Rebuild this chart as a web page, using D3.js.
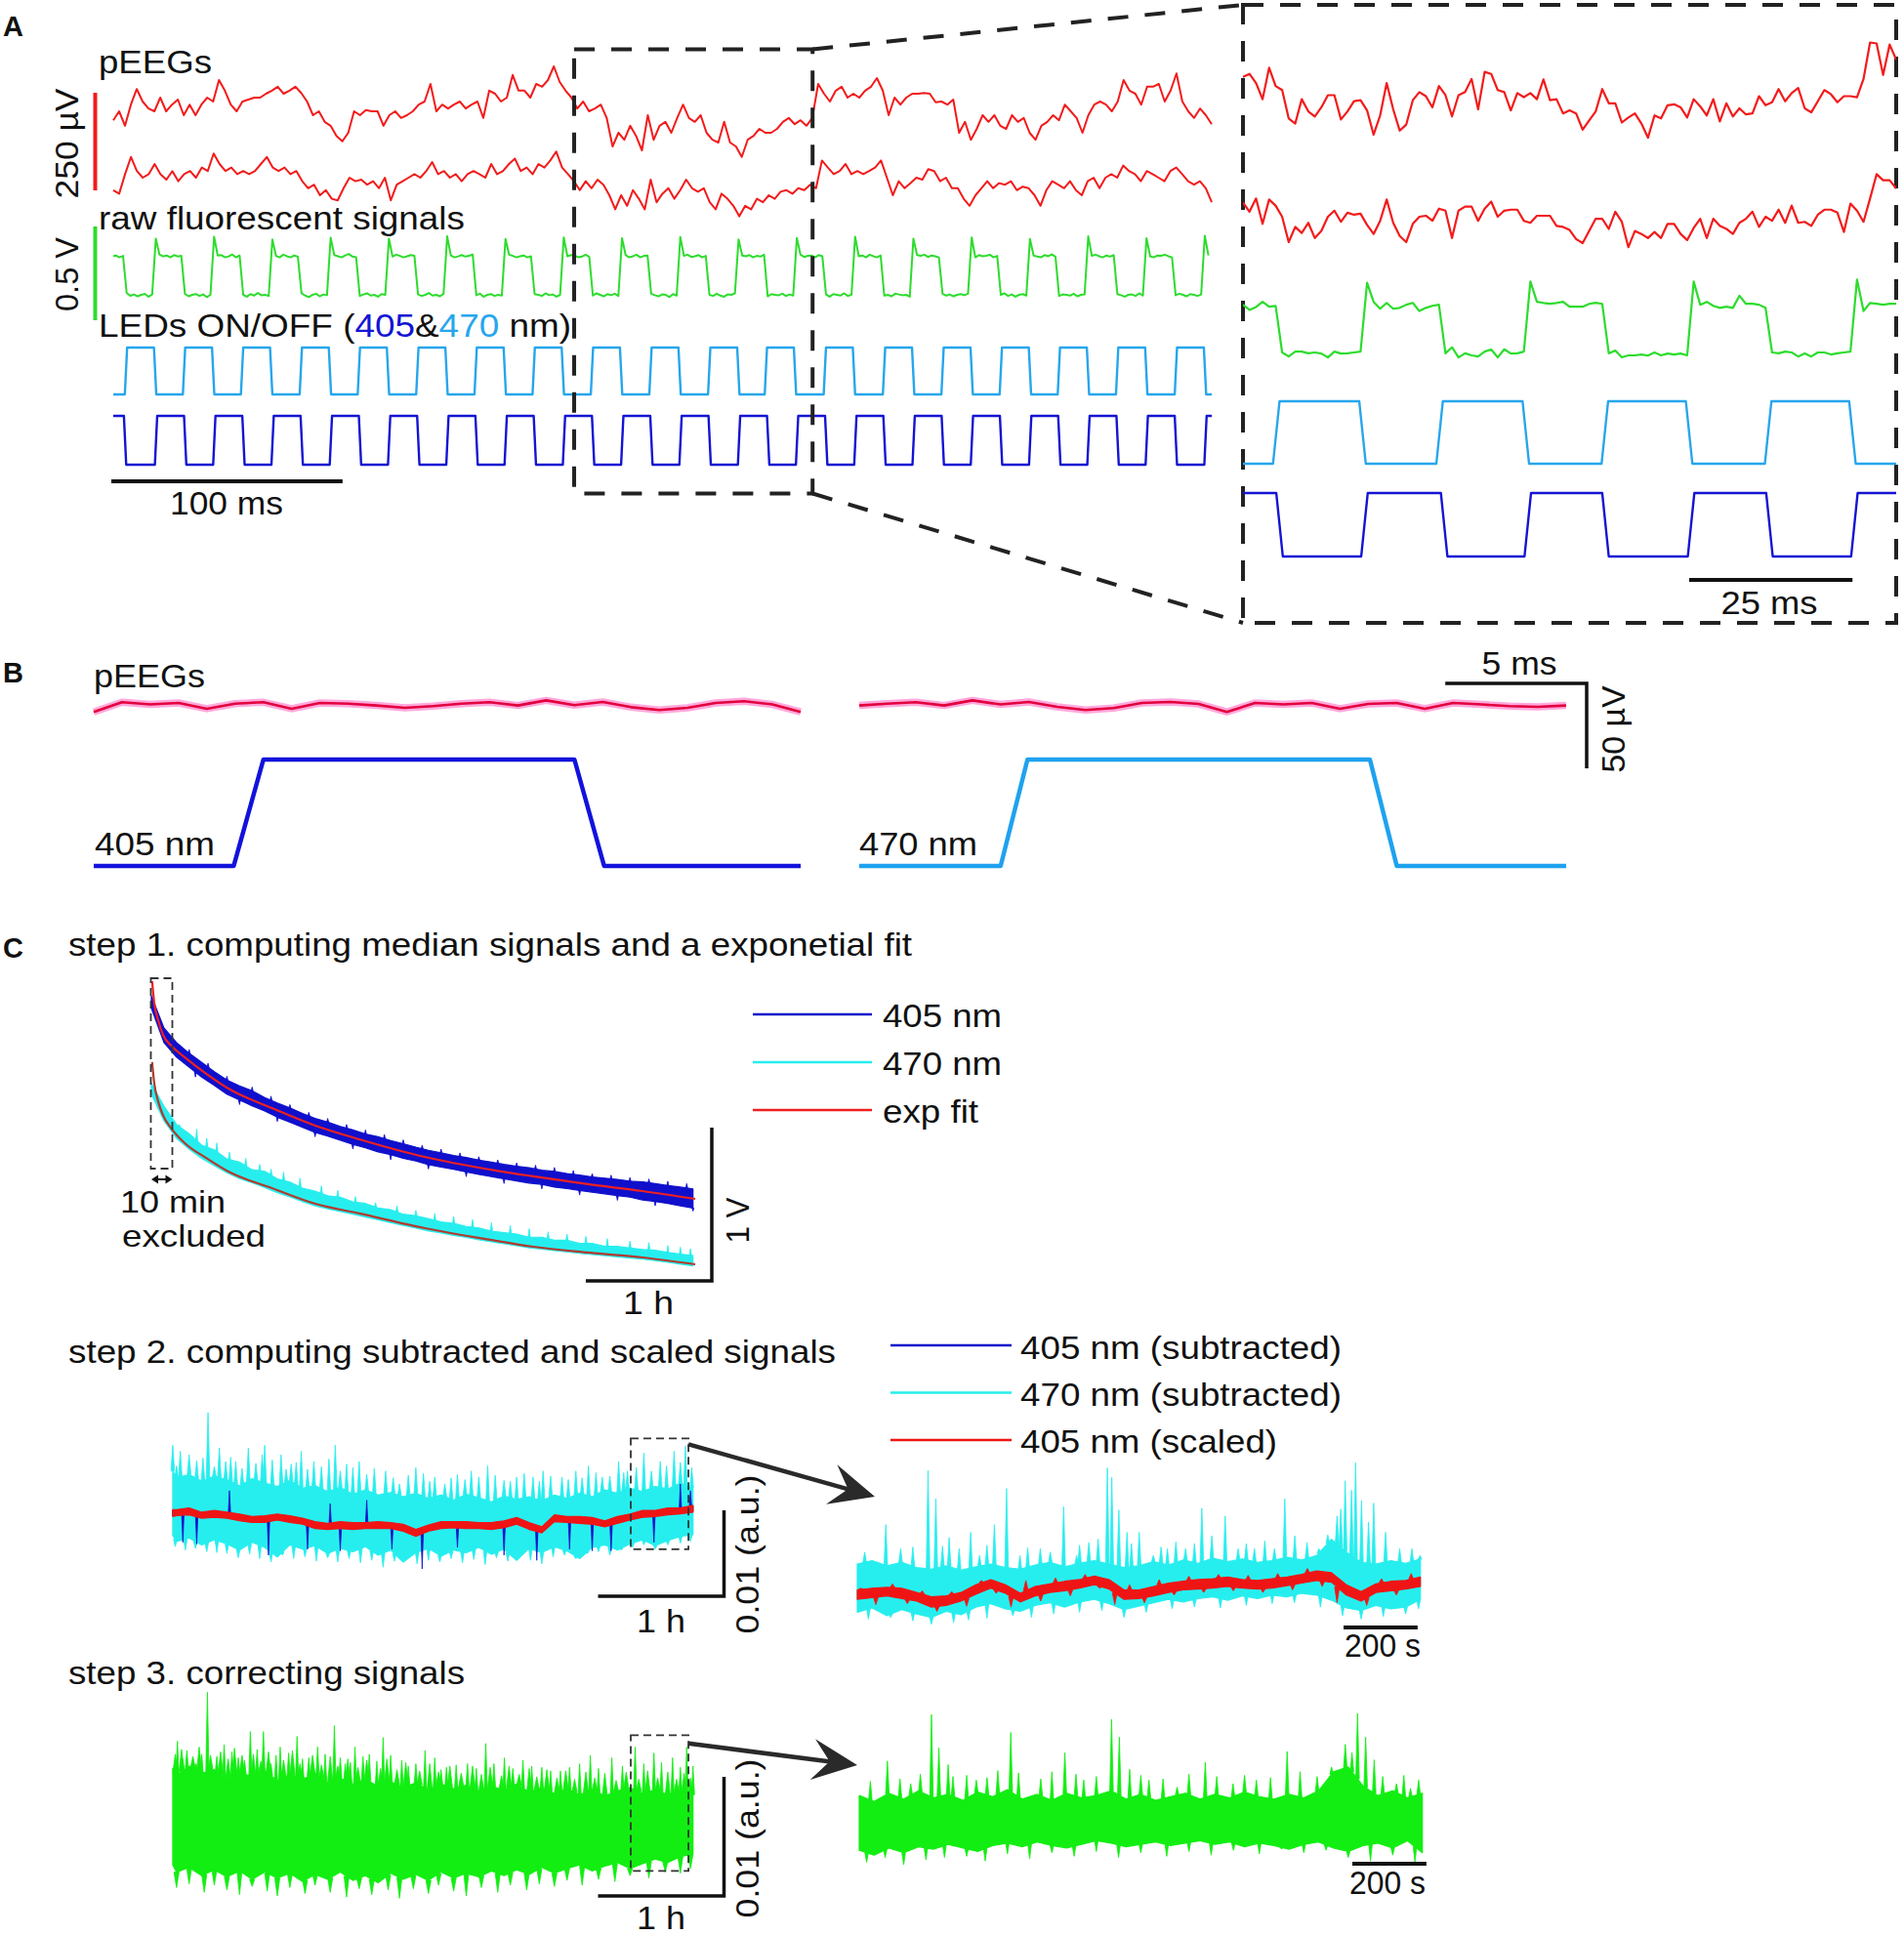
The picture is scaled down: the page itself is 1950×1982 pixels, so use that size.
<!DOCTYPE html>
<html lang="en">
<head>
<meta charset="UTF-8">
<title>pEEG and fluorescent signal processing</title>
<script src="https://d3js.org/d3.v7.min.js"></script>
<style>
  body { margin: 0; background: #fff; }
  text { font-family: "Liberation Sans", Arial, Helvetica, sans-serif; }
</style>
</head>
<body>
<script>
// ---------------- data ----------------
// Panel A overview, 475 ms. pEEG in µV, uniformly sampled
const eegA1 = [-8,15,-22,32,72,40,22,15,50,15, 32,45,5,32,5,32,50,40,95,68, 32,15,40,45,50,50,60,68,78,60,
  68,78,62,40,5,15,-12,-22,-48,-62, -40,15,5,18,15,15,-22,5,15,-2, 5,15,32,40,85,15,32,22,32,40,
  22,32,40,-2,68,60,40,50,108,68, 68,50,85,78,95,130,90,68,50,22, 40,15,22,32,-2,-75,-40,-58,-22,-48,
  -85,5,-58,-22,-12,-40,-2,32,-2,-12, 5,-40,-58,-65,-12,-65,-75,-102,-58,-48, -30,-40,-40,-30,-12,-2,-18,-8,-22,-2,
  85,60,40,68,78,50,60,50,68,78, 100,68,5,50,32,50,60,60,62,60, 38,40,32,45,-40,-12,-58,-30,5,-12,
  5,-22,-30,5,-12,-2,-40,-58,-22,-12, 5,-8,32,15,-2,-40,5,32,40,32, 15,40,95,68,60,32,78,78,85,40,
  68,112,40,15,-2,22,5,-18];
const eegA2 = [-37,-46,4,48,12,-5,4,30,4, -10,12,-14,4,12,-5,21,12,57, 30,12,21,4,12,4,12,30,48,
  21,12,21,4,12,-14,-32,-23,-50,-37, -59,-63,-32,-5,-14,-10,-23,-14,-32,-5, -63,-23,-14,-5,4,-5,12,35,4,12,
  -5,4,-14,4,12,4,-5,30,4,12, 30,44,12,21,4,30,21,39,62,21, 4,-14,-37,
  -14,-32,-10,-23,-50,-86,-50,-77,-37, -59,-86,-10,-68,-46,-32,-59,-37,-10,-32,
  -41,-32,-68,-86,-46,-59,-77,-104,-77,-86, -59,-68,-50,-59,-41,-37,-46,-32,-37,-23,
  -32,39,21,4,12,30,4,12,4,12, 21,39,-5,-50,-14,-32,-19,-5,-10,17, 12,-14,-5,-32,-32,-59,-77,-50,-32,-14,
  -32,-19,-23,-14,-37,-28,-32,-50,-77,-37, -14,-23,-32,-14,-37,-50,-14,-5,-32,-5,
  4,-5,26,12,4,-14,12,4,-5,-14, 12,21,4,-14,-23,-14,-32,-68];
// raw fluorescence (mV), first sample at -0.5 ms, 1.575 ms apart
const greenA = [
  205,210,200,208,10,-5,2,-8,0,5,-10,2,
  300,215,205,210,200,212,205,208,5,-8,0,4,-6,2,-12,0,
  310,210,212,200,205,215,200,210,0,-10,4,-4,10,-2,0,-6,
  295,208,200,214,206,200,210,204,8,-4,-12,0,6,-8,2,-2,
  305,212,206,200,210,218,204,200,-6,2,8,-4,0,-10,4,0,
  300,204,214,208,200,206,212,208,2,-6,0,10,-4,0,-8,6,
  312,210,200,205,212,204,208,215,-2,6,-10,0,4,-6,0,-4,
  298,214,208,200,206,210,200,206,4,0,-6,8,-2,2,-10,0,
  306,206,212,210,200,204,214,202,-4,8,0,-8,4,-2,6,-6,
  302,212,200,206,214,200,208,210,6,-2,-8,2,0,-12,4,-4,
  308,208,214,202,206,212,200,208,0,-6,6,-4,-10,2,0,8,
  296,210,206,212,200,208,204,214,-8,4,0,-2,6,-6,2,-4,
  304,214,202,208,210,200,212,206,2,-10,4,0,-4,8,-6,0,
  310,206,210,200,214,206,200,210,-4,0,-8,6,2,-2,0,-10,
  300,212,208,214,202,210,206,200,6,-4,2,-8,0,4,-2,6,
  306,200,212,206,208,214,200,208,0,8,-6,2,-10,0,4,-4,
  298,210,204,200,212,206,216,204,-6,2,0,-4,6,-8,0,2,
  312,208,214,206,200,210,204,212,4,-2,-10,0,2,-6,8,-4,
  302,206,200,210,208,214,206,200,-2,6,0,-8,4,0,-6,2,
  315,210];
// LED pulses [on, off] in ms
const led470A = [[5,17.6],[30.1,42.7],[55.2,67.8],[80.6,93.2],[105.7,118.3],[131,143.6],[156.2,168.8],[181.3,193.9],
  [206.5,219.1],[231.8,244.4],[257.2,269.8],[281.7,294.3],[307.2,319.8],[332.8,345.4],[358.1,370.7],[383.3,395.9],
  [408.4,421],[433.6,446.2],[459,471.6]];
const led405A = [[-8,4.6],[18,30.6],[43.2,55.8],[68.4,81],[93.6,106.2],[118.8,131.4],[144,156.6],[169.2,181.8],
  [194.4,207],[219.6,232.2],[244.8,257.4],[270.1,282.7],[295.2,307.8],[320.4,333],[345.6,358.2],[370.8,383.4],
  [396,408.6],[421.2,433.8],[446.4,459],[471.8,484]];
const zoomWindowA = [199.3, 302.4];

// Panel A zoom, 100 ms at 1 ms
const eegR1 = [32,38,20,-12,50,14,6,-50,-60,-12, -36,-46,-28,-4,-4,-52,-36,-16,-14,-34, -82,-44,20,-32,-74,-62,-14,2,-6,-28,
  14,-4,-46,-4,2,28,-32,42,38,6, 2,-34,0,-8,0,-12,27,-14,-12,-40, -34,-40,-72,-54,-36,8,-20,-20,-58,-48,
  -40,-60,-88,-44,-50,-24,-22,-28,-48,-12, -26,-44,-12,-56,-20,-46,-30,-42,-40,-6, -24,-18,8,-16,0,10,-30,-38,-16,6,
  -2,-18,-6,-6,-8,28,100,98,36,96, 66];
const eegR2 = [32,14,40,-10,38,26,4,-46,-16,-28, -8,-38,-24,4,16,-6,12,8,10,-12, -30,-4,38,-8,-34,-46,-10,4,6,-4,
  20,16,-38,16,24,24,-4,20,34,4, 16,18,18,-4,-8,6,6,6,-14,-16, -22,-40,-48,-24,0,0,-20,14,-6,-56,
  -24,-30,-38,-26,-38,-10,-10,-30,-42,-18, 0,-38,0,-14,-20,-30,-8,0,14,-16, 4,-4,18,-8,26,-8,-6,-14,8,18,
  18,12,-26,30,16,-6,40,88,76,76, 60];
const greenR = [212,189,202,225,203,207,0,-18,4,4, -4,0,-5,-22,4,-5,-4,0,4,310, 225,194,220,194,198,212,220,184,198,207,
  212,-4,23,-22,-4,-13,-18,4,13,-22, 14,-5,-4,4,315,225,220,216,220,225, 203,203,203,216,221,216,-4,9,-22,-13,
  -13,-9,-14,0,-13,-5,-9,-5,-13,315, 212,225,207,198,203,198,252,216,216,212, 198,0,-4,4,0,-18,-4,-18,0,0,
  -9,-4,0,4,324,184,220,216,212,216, 216];
const led470R = [[4.6,17.8],[29.6,42.8],[54.9,67.8],[79.9,92.8]];
const led405R = [[-8,5.1],[18.1,30.3],[43.1,55],[68.1,80.1],[93.1,108]];

// Panel B, 25 ms at 1 ms (µV)
const pinkB405 = [-3.4,2.3,1.0,1.9,-1.5,1.5,2.3,-1.5,1.9,1.5,0.4,-1.0,0,1.5,2.3,0.4,3.4,0.6,2.5,-0.6,-2.3,-1.0,1.9,2.9,1.0,-3.4];
const pinkB470 = [0.4,1.5,2.3,0.4,3.4,1.0,2.5,-0.4,-2.3,-1.1,1.9,2.5,1.3,-3.4,1.9,1.0,1.9,-1.5,1.3,1.9,-1.5,1.9,1.0,0,-0.4,0.4];
const ledB405 = [[4.95,17.0]];
const ledB470 = [[5.0,18.06]];

// Panel C step 1 (time in h, signal in V)
const fit405 = [[0.006,1.955],[0.023,1.815],[0.058,1.69],[0.093,1.605],[0.163,1.53],[0.264,1.46],[0.439,1.35],[0.612,1.255],
  [0.958,1.127],[1.302,1.013],[1.651,0.924],[2.171,0.809],[2.69,0.726],[3.031,0.682],[3.465,0.631],[3.899,0.586],[4.318,0.535]];
const fit470 = [[0.006,1.427],[0.023,1.29],[0.058,1.16],[0.093,1.08],[0.163,0.99],[0.264,0.9],[0.439,0.8],[0.612,0.713],
  [0.958,0.605],[1.302,0.503],[1.651,0.44],[2.171,0.344],[2.69,0.268],[3.031,0.223],[3.465,0.185],[3.899,0.153],[4.318,0.108]];
const raw405Hi = [1.86,1.65,1.555,1.485,1.425,1.365,1.31,1.272,1.24,1.195, 1.16,1.128,1.092,1.06,1.036,1.008,0.985,0.958,0.94,0.915,
  0.895,0.872,0.852,0.836,0.818,0.805,0.788,0.775,0.76,0.748, 0.738,0.722,0.714,0.70,0.69,0.678,0.67,0.662,0.65,0.646, 0.635,0.622,0.612,0.60];
const raw405Lo = [1.78,1.555,1.46,1.395,1.33,1.275,1.218,1.18,1.142,1.108, 1.068,1.036,1.002,0.968,0.945,0.918,0.89,0.868,0.842,0.824,
  0.8,0.782,0.758,0.742,0.728,0.71,0.695,0.68,0.666,0.652, 0.638,0.63,0.612,0.602,0.59,0.578,0.568,0.556,0.546,0.528, 0.518,0.505,0.49,0.475];
const raw405Rough = [[0.3,1.51],[0.35,1.33],[0.45,1.42],[0.6,1.335],[0.7,1.15],[0.8,1.265],[0.95,1.205],[1.0,1.04],[1.1,1.15],
  [1.25,1.1],[1.3,0.94],[1.4,1.06],[1.55,1.02],[1.6,0.86],[1.7,0.985],[1.85,0.955],[1.9,0.79],[2.0,0.92],[2.15,0.885],
  [2.2,0.73],[2.3,0.86],[2.45,0.835],[2.5,0.68],[2.6,0.81],[2.75,0.79],[2.8,0.635],[2.9,0.77],[3.05,0.755],[3.1,0.6],
  [3.2,0.74],[3.35,0.72],[3.4,0.56],[3.5,0.70],[3.65,0.69],[3.7,0.525],[3.8,0.675],[3.95,0.665],[4.0,0.49],[4.1,0.65],
  [4.25,0.635],[4.3,0.455]];
const raw470Hi = [1.29,1.14,1.02,0.96,0.885,0.855,0.795,0.775,0.725,0.715, 0.665,0.645,0.605,0.585,0.555,0.545,0.515,0.505,0.475,0.465,
  0.435,0.425,0.405,0.385,0.375,0.355,0.345,0.325,0.315,0.305, 0.285,0.285,0.265,0.265,0.245,0.245,0.225,0.225,0.215,0.205, 0.2,0.185,0.175,0.165];
const raw470Lo = [1.22,1.045,0.93,0.86,0.80,0.752,0.705,0.668,0.64,0.608, 0.576,0.548,0.518,0.49,0.47,0.453,0.435,0.416,0.398,0.38,
  0.362,0.344,0.326,0.312,0.297,0.284,0.268,0.255,0.242,0.23, 0.216,0.208,0.198,0.19,0.18,0.172,0.164,0.157,0.149,0.142, 0.132,0.121,0.109,0.098];
const raw470Spikes = [[0.22,1.02],[0.36,0.99],[0.44,0.93],[0.52,0.9],[0.62,0.84],[0.75,0.8],[0.86,0.76],[0.95,0.73],[1.05,0.71],
  [1.18,0.67],[1.35,0.62],[1.48,0.59],[1.62,0.55],[1.78,0.51],[1.95,0.49],[2.1,0.46],[2.25,0.44],[2.4,0.42],[2.55,0.4],
  [2.7,0.38],[2.85,0.36],[3.0,0.34],[3.15,0.32],[3.3,0.305],[3.45,0.29],[3.62,0.275],[3.8,0.26],[3.95,0.25],[4.1,0.23],
  [4.2,0.22],[4.28,0.21]];

// Panel C step 2 (time in h, signal in 1e-3 a.u.)
const sub470Hi = [5.6,4.8,5.2,4.4,5.0,4.6,3.9,4.7,4.2,3.8, 4.5,3.6,3.9,3.2,3.7,2.9,3.4,2.8,3.1,2.6, 3.0,2.4,2.8,2.2,2.9,2.5,2.0,2.7,2.3,2.6,
  2.1,2.8,2.4,3.0,2.6,3.4,3.0,3.6,3.2,3.8, 3.5,4.2,3.6];
const sub470Lo = [-1.9,-2.6,-2.2,-3.0,-2.4,-2.9,-3.6,-2.7,-3.3,-4.4, -3.0,-3.5,-3.1,-4.0,-3.4,-3.8,-3.2,-4.2,-3.6,-5.0,
  -3.9,-3.4,-4.3,-3.6,-3.9,-3.3,-4.1,-3.5,-4.8,-3.4, -3.9,-3.2,-3.7,-4.6,-3.3,-3.0,-3.6,-2.9,-2.4,-3.1, -2.5,-2.0,-1.8];
const sub470Spikes = [[0.17,8.6],[0.2,6.2],[0.23,7.9],[0.30,7.5],[0.36,6.8],[0.41,7.1],[0.45,12.4],[0.5,6.1],[0.54,8.3],[0.59,6.7],
  [0.63,7.2],[0.67,6.7],[0.72,5.9],[0.77,8.3],[0.83,6.5],[0.88,7.5],[0.90,8.6],[0.96,6.9],[1.03,7.5],[1.07,5.8],[1.11,6.4],
  [1.15,6.6],[1.19,7.9],[1.24,5.8],[1.29,6.7],[1.35,6.1],[1.41,7.0],[1.46,8.6],[1.5,5.6],[1.55,6.4],[1.6,6.0],[1.65,6.7],
  [1.71,5.2],[1.77,5.9],[1.86,5.6],[1.92,4.8],[1.97,4.1],[2.04,5.1],[2.10,6.0],[2.16,5.3],[2.21,4.4],[2.25,4.9],[2.33,4.1],
  [2.38,4.8],[2.43,5.2],[2.49,4.6],[2.54,5.6],[2.6,4.9],[2.67,6.2],[2.73,5.1],[2.80,4.5],[2.85,4.4],[2.90,4.9],[2.96,5.3],
  [3.03,4.9],[3.08,4.4],[3.11,5.6],[3.17,5.0],[3.26,4.9],[3.31,4.6],[3.37,5.6],[3.42,4.8],[3.47,6.2],[3.53,5.4],[3.58,4.9],
  [3.64,5.0],[3.71,6.7],[3.75,5.4],[3.78,5.6],[3.85,6.0],[3.91,7.7],[3.97,5.6],[4.04,6.7],[4.09,6.2],[4.15,7.9],[4.2,6.6],
  [4.24,8.5],[4.29,6.0],
  [0.19,-3.2],[0.27,-3.6],[0.35,-3.4],[0.44,-3.8],[0.52,-3.9],[0.6,-4.0],[0.69,-4.5],[0.78,-4.1],[0.86,-4.6],[0.95,-5.0],
  [1.04,-4.2],[1.13,-4.6],[1.22,-4.4],[1.31,-4.9],[1.4,-4.5],[1.48,-5.0],[1.57,-4.6],[1.66,-5.1],[1.75,-4.8],[1.84,-5.6],
  [1.93,-4.9],[2.02,-4.7],[2.11,-5.2],[2.2,-4.8],[2.29,-5.0],[2.38,-4.6],[2.47,-5.1],[2.56,-4.7],[2.65,-5.3],[2.74,-4.5],
  [2.83,-4.9],[2.92,-4.4],[3.01,-4.8],[3.1,-5.2],[3.19,-4.4],[3.28,-4.2],[3.37,-4.6],[3.46,-4.0],[3.55,-3.8],[3.64,-4.2],
  [3.73,-3.6],[3.82,-3.3],[3.91,-3.0],[4.0,-3.5],[4.1,-3.0],[4.2,-2.8],[4.28,-2.6]];
const sub405Hi = [1.0,1.0,1.2,0.7,0.9,0.7,0.5,0.2,0.3,0.5, 0.3,0.0,-0.4,-0.6,-0.4,-0.5,-0.5,-0.4,-0.5,-0.7,
  -1.3,-0.8,-0.4,-0.4,-0.4,-0.5,-0.5,-0.3,0.1,-0.5, -1.0,0.4,0.2,0.2,0.1,-0.3,0.2,0.5,0.9,0.9, 1.2,1.2,1.5];
const sub405Lo = [0.4,0.5,0.6,0.2,0.3,0.2,-0.1,-0.3,-0.3,0.0, -0.3,-0.5,-1.0,-1.1,-1.0,-1.1,-1.0,-1.0,-1.0,-1.3,
  -1.9,-1.3,-1.0,-0.9,-1.0,-1.0,-1.1,-0.9,-0.5,-1.1, -1.5,-0.2,-0.3,-0.4,-0.5,-0.8,-0.4,0.0,0.3,0.4, 0.6,0.7,0.9];
const sub405Spikes = [[0.25,-2.7],[0.36,-2.9],[0.62,3.3],[0.93,-4.2],[1.24,-3.5],[1.42,1.8],[1.5,-3.7],[1.71,2.2],[1.91,-3.5],
  [2.15,-5.8],[2.43,-3.3],[2.8,-4.2],[3.06,-4.8],[3.32,-3.5],[3.5,-3.7],[3.65,-3.7],[3.99,-2.7],[4.2,4.1],[4.28,3.3]];
const scaled405Hi = [1.1,1.1,1.3,0.8,1.0,0.8,0.6,0.3,0.4,0.6, 0.4,0.1,-0.3,-0.5,-0.3,-0.4,-0.4,-0.3,-0.4,-0.6,
  -1.2,-0.7,-0.3,-0.3,-0.3,-0.4,-0.4,-0.2,0.2,-0.4, -0.9,0.5,0.3,0.3,0.2,-0.2,0.3,0.6,1.0,1.0, 1.3,1.3,1.6];
const scaled405Lo = [0.3,0.4,0.5,0.1,0.2,0.1,-0.2,-0.4,-0.4,-0.1, -0.4,-0.6,-1.1,-1.2,-1.1,-1.2,-1.1,-1.1,-1.1,-1.4,
  -2.0,-1.4,-1.1,-1.0,-1.1,-1.1,-1.2,-1.0,-0.6,-1.2, -1.6,-0.3,-0.4,-0.5,-0.6,-0.9,-0.5,-0.1,0.2,0.3, 0.5,0.6,0.8];

// step 2 zoom (time in s, 40 s grid)
const zSub470Hi = [2.6,3.0,2.4,2.8,2.2,2.0,2.4,1.9,2.3,2.6, 2.2,2.0,2.5,2.8,2.3,2.7,3.0,2.6,2.2,2.4,
  2.9,2.5,3.1,2.7,3.3,2.9,3.2,2.8,3.0,3.4, 3.1,3.6,5.5,4.0,2.8,2.6,3.0,2.7,3.2];
const zSub470Lo = [-3.0,-2.5,-3.4,-2.7,-3.2,-3.6,-2.9,-3.3,-2.4,-2.0, -2.6,-2.9,-2.2,-1.9,-2.4,-1.8,-1.5,-2.0,-2.7,-2.3,
  -1.9,-1.5,-1.8,-1.4,-1.2,-1.6,-1.1,-1.4,-1.0,-1.2, -0.8,-1.0,-1.6,-2.5,-2.8,-2.2,-2.6,-2.4,-1.5];
const zSub470Spikes = [[20,4.0],[77,7.2],[117,4.4],[150,4.6],[191,13.5],[212,10.2],[230,4.7],[248,5.7],[275,4.4],[306,6.3],
  [330,3.6],[350,4.8],[370,7.2],[403,11.4],[439,3.6],[460,4.5],[494,4.4],[521,4.0],[557,9.3],[592,3.6],[600,4.8],[625,5.1],
  [650,5.5],[675,13.8],[687,12.7],[706,8.9],[728,6.3],[740,5.0],[761,6.3],[799,3.6],[820,4.6],[837,4.4],[860,5.2],[886,4.4],
  [910,5.0],[930,9.1],[957,5.9],[993,8.2],[1028,4.4],[1050,5.0],[1072,4.4],[1100,5.3],[1126,4.4],[1154,10.2],[1181,5.9],
  [1214,5.1],[1246,4.4],[1270,6.0],[1295,8.2],[1305,9.0],[1317,12.3],[1334,11.2],[1345,14.4],[1361,10.0],[1380,7.5],
  [1394,9.7],[1426,6.3],[1464,4.4],[1497,4.4],[1519,3.6],
  [30,-3.8],[90,-3.6],[150,-4.0],[200,-4.4],[260,-4.2],[300,-3.9],[350,-3.7],[420,-3.4],[470,-3.6],[530,-3.2],[600,-3.0],
  [660,-2.8],[720,-3.6],[780,-3.0],[850,-2.6],[910,-2.4],[980,-2.5],[1050,-2.2],[1120,-2.0],[1180,-1.9],[1250,-2.4],
  [1310,-3.4],[1360,-3.8],[1420,-3.5],[1480,-3.2],[1515,-2.6]];
const zScaledHi = [-0.4,-0.2,-0.1,-0.2,-0.7,-1.2,-1.1,-0.7,0.2,0.8, 0.2,-0.8,0.0,0.3,0.6,0.8,1.2,0.8,-0.4,-0.4,
  0.0,0.4,0.6,0.8,0.9,1.1,0.8,0.7,0.9,1.1, 1.4,1.8,1.6,0.2,-0.6,0.3,0.6,0.7,1.1];
const zScaledLo = [-1.5,-1.3,-1.1,-1.4,-1.7,-2.4,-2.2,-1.7,-0.9,-0.2, -0.8,-1.8,-1.1,-0.7,-0.5,-0.2,0.2,-0.3,-1.5,-1.4,
  -1.1,-0.7,-0.4,-0.3,-0.2,0.0,-0.2,-0.3,-0.2,0.1, 0.4,0.7,0.5,-1.0,-1.7,-0.7,-0.5,-0.3,0.0];
const zScaledRough = [[10,-0.2],[50,-2.1],[95,0.3],[135,-2.0],[175,-0.5],[215,-2.9],[255,-0.6],[295,-2.3],[335,0.7],[375,-0.8],
  [415,-2.4],[455,0.7],[495,-1.7],[535,1.0],[575,-1.1],[615,1.4],[655,-0.2],[695,-2.1],[735,0.2],[775,-1.9],[815,0.8],
  [855,-1.0],[895,1.2],[935,-0.7],[975,1.4],[1015,-0.5],[1055,1.3],[1095,-0.7],[1135,1.5],[1175,-0.4],[1215,2.1],
  [1255,0.0],[1295,-1.9],[1335,-0.1],[1375,-2.2],[1415,0.9],[1455,-1.0],[1495,1.5]];

// step 3 corrected (1e-3 a.u.)
const corrHi = [4.8,4.2,5.0,4.4,4.7,3.9,4.5,4.1,4.6,3.8, 4.3,3.9,4.4,3.6,4.0,3.5,3.9,3.3,3.7,3.2, 3.6,3.0,3.5,3.1,3.4,2.9,3.3,3.0,3.5,2.8,
  3.2,2.7,3.1,2.6,3.0,2.5,2.9,3.2,2.7,3.0, 2.6,2.9,2.6];
const corrLo = [-3.3,-3.9,-3.5,-4.2,-3.7,-4.3,-3.8,-4.5,-3.9,-4.4, -4.0,-4.7,-4.1,-4.5,-3.9,-4.6,-4.2,-4.8,-4.0,-4.5,
  -4.1,-4.6,-3.9,-4.4,-4.0,-4.3,-3.8,-4.2,-3.7,-4.1, -3.5,-4.0,-3.6,-3.3,-3.8,-3.4,-3.1,-3.6,-3.2,-2.8, -3.1,-2.6,-2.4];
const corrSpikes = [[0.207,7.1],[0.25,5.6],[0.282,6.3],[0.355,5.2],[0.4,6.0],[0.445,11.2],[0.52,5.8],[0.578,6.8],[0.64,6.2],
  [0.69,5.7],[0.74,5.5],[0.786,7.9],[0.84,6.4],[0.89,7.9],[0.95,5.2],[0.99,5.9],[1.023,6.6],[1.09,6.1],[1.157,7.5],[1.2,5.6],
  [1.25,5.7],[1.32,6.6],[1.38,6.0],[1.453,8.4],[1.5,5.7],[1.54,5.2],[1.58,5.3],[1.617,6.6],[1.68,5.8],[1.73,6.0],[1.79,5.4],
  [1.84,7.4],[1.9,5.9],[1.988,5.5],[2.04,5.0],[2.1,5.2],[2.173,6.3],[2.25,5.7],[2.3,4.7],[2.343,4.9],[2.42,5.1],[2.51,5.2],
  [2.58,4.8],[2.655,6.9],[2.72,5.2],[2.803,5.7],[2.87,4.8],[2.95,5.5],[3.02,5.0],[3.1,4.9],[3.17,4.6],[3.248,4.6],[3.32,4.9],
  [3.4,5.2],[3.485,5.9],[3.55,4.8],[3.656,5.7],[3.74,5.0],[3.841,6.6],[3.91,5.2],[3.99,6.1],[4.05,5.3],[4.138,5.7],
  [4.2,4.9],[4.25,6.6],[4.3,5.0]];
const corrRough = [[0.19,6.0],[0.24,6.4],[0.33,5.8],[0.38,6.6],[0.47,5.9],[0.55,6.2],[0.61,5.6],[0.66,6.5],[0.72,5.9],[0.81,6.0],
  [0.87,5.4],[0.93,6.2],[1.05,5.5],[1.12,6.3],[1.18,5.2],[1.28,5.9],[1.35,5.1],[1.42,5.8],[1.48,5.0],[1.56,5.6],[1.64,4.9],
  [1.71,5.5],[1.82,4.8],[1.87,5.6],[1.95,4.7],[2.02,5.3],[2.13,4.6],[2.21,5.2],[2.28,4.5],[2.37,5.0],[2.46,4.4],[2.55,5.0],
  [2.62,4.3],[2.69,4.9],[2.78,4.2],[2.84,5.0],[2.92,4.3],[3.0,4.8],[3.06,4.1],[3.14,4.7],[3.22,4.0],[3.29,4.6],[3.36,3.9],
  [3.45,4.5],[3.52,4.0],[3.6,4.4],[3.69,3.8],[3.77,4.5],[3.87,3.9],[3.94,4.6],[4.02,4.0],[4.1,4.5],[4.17,3.9],[4.23,4.4],
  [4.28,4.0],
  [0.2,-5.2],[0.3,-4.9],[0.42,-5.6],[0.5,-5.0],[0.6,-5.4],[0.7,-5.8],[0.8,-5.1],[0.92,-5.5],[1.0,-5.9],[1.1,-5.2],[1.22,-5.7],
  [1.3,-5.0],[1.42,-5.6],[1.55,-6.0],[1.65,-5.3],[1.75,-5.8],[1.88,-5.4],[1.97,-6.1],[2.08,-5.3],[2.2,-5.7],[2.28,-5.0],
  [2.4,-5.5],[2.5,-5.9],[2.62,-5.2],[2.75,-5.6],[2.85,-5.0],[2.98,-5.4],[3.08,-4.9],[3.2,-5.1],[3.3,-4.6],[3.42,-5.0],
  [3.55,-4.5],[3.68,-4.7],[3.8,-4.2],[3.95,-4.4],[4.08,-3.9],[4.2,-4.0],[4.28,-3.6]];
const zCorrHi = [2.2,1.7,2.4,1.9,2.6,2.0,2.3,1.8,2.5,2.1, 2.7,1.9,2.3,1.8,2.4,2.0,2.2,2.6,1.9,2.3,
  1.8,2.1,2.4,1.9,2.3,2.0,2.5,2.1,1.9,2.3, 2.0,2.6,4.2,4.6,3.0,2.2,2.6,2.0,2.4];
const zCorrLo = [-2.4,-2.8,-2.2,-2.6,-2.1,-2.3,-1.9,-2.2,-2.5,-2.0, -1.8,-2.1,-1.7,-2.0,-2.2,-1.9,-1.6,-1.8,-2.1,-1.9,
  -1.7,-2.0,-1.8,-1.6,-1.9,-1.7,-2.1,-1.8,-2.0,-2.3, -1.9,-1.7,-2.2,-2.5,-2.0,-1.8,-2.2,-1.6,-2.6];
const zCorrSpikes = [[30,3.4],[76,5.1],[110,3.6],[139,3.2],[165,4.0],[195,9.0],[215,6.2],[240,4.8],[253,3.8],[290,3.9],
  [316,3.5],[345,3.7],[374,4.3],[409,7.5],[430,4.1],[490,3.6],[520,4.2],[555,5.8],[585,4.0],[606,3.5],[640,3.8],
  [681,8.6],[702,7.1],[730,4.4],[760,3.9],[782,3.5],[820,3.6],[858,2.9],[890,4.0],[934,5.0],[965,3.8],[1009,3.2],
  [1040,3.9],[1072,3.5],[1110,3.7],[1155,5.9],[1190,4.2],[1236,3.8],[1275,4.6],[1312,6.5],[1330,5.8],[1345,9.1],
  [1367,7.1],[1390,5.2],[1413,3.8],[1450,3.2],[1470,3.9],[1488,2.8],[1510,3.5],
  [20,-3.4],[70,-3.0],[120,-3.6],[180,-3.2],[230,-3.0],[290,-2.9],[340,-3.3],[400,-2.7],[460,-3.1],[520,-2.6],[580,-2.9],
  [640,-2.5],[700,-3.0],[760,-2.6],[830,-2.9],[890,-2.5],[950,-2.8],[1010,-2.4],[1080,-2.7],[1140,-2.3],[1200,-2.6],
  [1260,-2.4],[1320,-3.0],[1380,-3.3],[1440,-2.8],[1500,-3.4]];

// sample grids
const tStep1 = d3.range(0, 44).map(k => k / 10);
const tMain = [0.17].concat(d3.range(2, 44).map(k => k / 10));
const tZoom = d3.range(0, 39).map(k => k * 40);

// ---------------- drawing helpers ----------------
const RED = "#f21b1b", GREEN = "#2ddc2d", LB = "#27a6ec", DB = "#1414d4",
      CYAN = "#27eeee", BLUE = "#1010cc", GREEN3 = "#12ee12", INK = "#111";

const svg = d3.select("body").append("svg").attr("width", 1950).attr("height", 1982);
const defs = svg.append("defs");
let clipN = 0;
function clip(x0, y0, x1, y1) {
  const id = "c" + (clipN++);
  defs.append("clipPath").attr("id", id).append("rect")
    .attr("x", x0).attr("y", y0).attr("width", x1 - x0).attr("height", y1 - y0);
  return `url(#${id})`;
}
const uniform = (vals, t0, dt) => vals.map((v, i) => [t0 + i * dt, v]);

function line(pts, x, y, color, w, clipUrl, curve) {
  const gen = d3.line().x(d => x(d[0])).y(d => y(d[1]));
  if (curve) gen.curve(curve);
  const p = svg.append("path").datum(pts).attr("fill", "none").attr("stroke", color)
    .attr("stroke-width", w).attr("stroke-linejoin", "round").attr("d", gen);
  if (clipUrl) p.attr("clip-path", clipUrl);
  return p;
}
function ledPts(pulses, ramp, t0, t1) {
  const pts = [[t0 - 30, 0]];
  pulses.forEach(([on, off]) => pts.push([on, 0], [on + ramp, 1], [off, 1], [off + ramp, 0]));
  pts.push([t1 + 30, 0]);
  return pts;
}
function band(times, hi, lo, x, y, color) {
  const data = times.map((t, i) => [t, hi[i], lo[i]]);
  svg.append("path").datum(data).attr("fill", color).attr("stroke", color).attr("stroke-width", 1.2)
    .attr("stroke-linejoin", "round")
    .attr("d", d3.area().x(d => x(d[0])).y0(d => y(d[2])).y1(d => y(d[1])));
}
function spikes(list, times, hi, lo, x, y, color, hw) {
  const hiAt = d3.scaleLinear(times, hi).clamp(true);
  const loAt = d3.scaleLinear(times, lo).clamp(true);
  svg.append("g").selectAll("path").data(list).join("path")
    .attr("fill", color).attr("stroke", color).attr("stroke-width", 0.8).attr("stroke-linejoin", "round")
    .attr("d", ([t, v]) => {
      const base = v >= hiAt(t) ? hiAt(t) : (v <= loAt(t) ? loAt(t) : (hiAt(t) + loAt(t)) / 2);
      const xb = x(t), yb = y(base);
      return `M${xb - hw},${yb}L${xb},${y(v)}L${xb + hw},${yb}Z`;
    });
}
function seg(x0, y0, x1, y1, color, w, dash) {
  const l = svg.append("line").attr("x1", x0).attr("y1", y0).attr("x2", x1).attr("y2", y1)
    .attr("stroke", color).attr("stroke-width", w);
  if (dash) l.attr("stroke-dasharray", dash);
  return l;
}
function rect(x0, y0, x1, y1, color, w, dash) {
  svg.append("rect").attr("x", x0).attr("y", y0).attr("width", x1 - x0).attr("height", y1 - y0)
    .attr("fill", "none").attr("stroke", color).attr("stroke-width", w).attr("stroke-dasharray", dash);
}
function label(text, x, y, o = {}) {
  const t = svg.append("text").attr("x", x).attr("y", y).attr("font-size", o.size || 34)
    .attr("fill", o.fill || INK).text(text);
  if (o.anchor) t.attr("text-anchor", o.anchor);
  if (o.width) t.attr("textLength", o.width).attr("lengthAdjust", "spacingAndGlyphs");
  if (o.rot) t.attr("transform", `rotate(-90 ${x} ${y})`);
  if (o.bold) t.attr("font-weight", "bold");
  return t;
}
function arrow(x0, y0, x1, y1) {
  const dx = x1 - x0, dy = y1 - y0, L = Math.hypot(dx, dy), ux = dx / L, uy = dy / L;
  const len = 46, half = 21, px = -uy, py = ux;
  seg(x0, y0, x1 - ux * len * 0.6, y1 - uy * len * 0.6, "#2a2a2a", 4.5);
  const bx = x1 - ux * len, by = y1 - uy * len;
  svg.append("path").attr("fill", "#2a2a2a")
    .attr("d", `M${x1},${y1}L${bx + px * half},${by + py * half}L${x1 - ux * len * 0.62},${y1 - uy * len * 0.62}L${bx - px * half},${by - py * half}Z`);
}

// ---------------- Panel A: overview ----------------
label("A", 3, 37, { size: 29, bold: true });
const xA = d3.scaleLinear([0, 475], [116, 1241]);
const yA1 = d3.scaleLinear([0, 100], [120, 80]);
const yA2 = d3.scaleLinear([0, 100], [180, 140]);
const yAG = d3.scaleLinear([0, 500], [302, 206]);
const yA470 = d3.scaleLinear([0, 1], [404, 356]);
const yA405 = d3.scaleLinear([0, 1], [476, 426]);
const clipA = clip(xA(0), 0, xA(475), 520);

line(uniform(eegA1, 0, 475 / (eegA1.length - 1)), xA, yA1, RED, 2);
line(uniform(eegA2, 0, 475 / (eegA2.length - 1)), xA, yA2, RED, 2);
line(uniform(greenA, -0.5, 1.575), xA, yAG, GREEN, 2, clipA);
line(ledPts(led470A, 1.0, 0, 475), xA, yA470, LB, 2.4, clipA);
line(ledPts(led405A, 1.0, 0, 475), xA, yA405, DB, 2.4, clipA);

// scale bars
seg(97.5, 195, 97.5, 195 - (yA1(0) - yA1(250)), RED, 4);
seg(97.5, 328, 97.5, 328 - (yAG(0) - yAG(500)), GREEN, 4);
seg(114, 493, 114 + xA(100) - xA(0), 493, INK, 4);
label("250 \u00b5V", 80, 147, { rot: true, anchor: "middle", width: 113 });
label("0.5 V", 80, 281, { rot: true, anchor: "middle", width: 76 });
label("100 ms", 232, 527, { anchor: "middle", width: 116 });
label("pEEGs", 101, 75, { width: 116 });
label("raw fluorescent signals", 101, 235, { width: 375 });
const ledTxt = label("", 101, 345, { width: 484 });
ledTxt.append("tspan").text("LEDs ON/OFF (");
ledTxt.append("tspan").attr("fill", DB).text("405");
ledTxt.append("tspan").text("&");
ledTxt.append("tspan").attr("fill", LB).text("470");
ledTxt.append("tspan").text(" nm)");

// zoom window + connectors
const DASH = "21,17";
const bx0 = xA(zoomWindowA[0]), bx1 = xA(zoomWindowA[1]);
rect(bx0, 50.5, bx1, 505.5, "#222", 4, DASH);
const xR = d3.scaleLinear([0, 100], [1273, 1942]);
seg(bx1, 50.5, xR(0), 5, "#222", 4, DASH);
seg(bx1, 505.5, xR(0), 638, "#222", 4, DASH);
rect(xR(0), 5, xR(100), 638, "#222", 4, DASH);

// ---------------- Panel A: zoom ----------------
const yR1 = d3.scaleLinear([0, 100], [95.4, 43.5]);
const yR2 = d3.scaleLinear([0, 100], [224.1, 172.2]);
const yRG = d3.scaleLinear([0, 200], [361, 314.9]);
const yR470 = d3.scaleLinear([0, 1], [475, 411]);
const yR405 = d3.scaleLinear([0, 1], [570, 505]);
const clipR = clip(xR(0), 0, xR(100), 640);
line(uniform(eegR1, 0, 1), xR, yR1, RED, 2.2, clipR);
line(uniform(eegR2, 0, 1), xR, yR2, RED, 2.2, clipR);
line(uniform(greenR, 0, 1), xR, yRG, GREEN, 2.2, clipR);
line(ledPts(led470R, 1.0, 0, 100), xR, yR470, LB, 2.4, clipR);
line(ledPts(led405R, 1.0, 0, 100), xR, yR405, DB, 2.4, clipR);
seg(1730, 594, 1730 + xR(25) - xR(0), 594, INK, 4);
label("25 ms", 1812, 629, { anchor: "middle", width: 99 });

// ---------------- Panel B ----------------
label("B", 3, 699, { size: 29, bold: true });
label("pEEGs", 96, 704, { width: 114 });
const xBL = d3.scaleLinear([0, 25], [96, 820]);
const xBR = d3.scaleLinear([0, 25], [880, 1604]);
const yPink = d3.scaleLinear([0, 5], [723.3, 714.6]);
const yLedB = d3.scaleLinear([0, 1], [887, 778]);
[[pinkB405, xBL], [pinkB470, xBR]].forEach(([vals, x]) => {
  line(uniform(vals, 0, 1), x, yPink, "#ff9fd8", 7.5).attr("opacity", 0.9);
  line(uniform(vals, 0, 1), x, yPink, "#e3003e", 2.6);
});
line(ledPts(ledB405, 1.05, 0, 25), xBL, yLedB, "#1212dc", 4.5, clip(xBL(0), 700, xBL(25), 900));
line(ledPts(ledB470, 0.95, 0, 25), xBR, yLedB, "#1fa2ef", 4.5, clip(xBR(0), 700, xBR(25), 900));
label("405 nm", 97, 876, { width: 123 });
label("470 nm", 880, 876, { width: 121 });
// scale bar 5 ms / 50 µV
const sbx = 1625, sby = 700;
svg.append("path").attr("fill", "none").attr("stroke", INK).attr("stroke-width", 3.5)
  .attr("d", `M${sbx - (xBR(5) - xBR(0))},${sby}H${sbx}V${sby + (yPink(0) - yPink(50))}`);
label("5 ms", 1556, 691, { anchor: "middle", width: 77 });
label("50 \u00b5V", 1664, 747, { rot: true, anchor: "middle", width: 89 });

// ---------------- Panel C step 1 ----------------
label("C", 3, 981, { size: 29, bold: true });
label("step 1. computing median signals and a exponetial fit", 70, 979, { width: 864 });
const xC = d3.scaleLinear([0, 4.32], [155, 712.3]);
const yS1 = d3.scaleLinear([0, 1], [1312, 1155]);
band(tStep1, raw405Hi, raw405Lo, xC, yS1, BLUE);
spikes(raw405Rough, tStep1, raw405Hi, raw405Lo, xC, yS1, BLUE, 1.0);
line(fit405, xC, yS1, "#ee2020", 2.2, null, d3.curveMonotoneX);
band(tStep1, raw470Hi, raw470Lo, xC, yS1, CYAN);
spikes(raw470Spikes, tStep1, raw470Hi, raw470Lo, xC, yS1, CYAN, 1.1);
line(fit470, xC, yS1, "#b23a2e", 2.2, null, d3.curveMonotoneX);
// excluded 10 min window
rect(xC(-0.004), 1002, xC(1 / 6), 1197, "#333", 1.8, "8,5");
seg(xC(0) + 3, 1208, xC(1 / 6) - 3, 1208, INK, 2);
svg.append("path").attr("fill", INK).attr("d", `M${xC(0)},1208l7,-4.5v9Z M${xC(1 / 6)},1208l-7,-4.5v9Z`);
label("10 min", 123, 1242, { width: 108, size: 32 });
label("excluded", 125, 1277, { width: 147, size: 32 });
// scale bars 1 h / 1 V
svg.append("path").attr("fill", "none").attr("stroke", INK).attr("stroke-width", 3.5)
  .attr("d", `M${729 - (xC(1) - xC(0))},1312H729V${1312 - (yS1(0) - yS1(1))}`);
label("1 h", 664, 1346, { anchor: "middle", width: 52 });
label("1 V", 767, 1250, { rot: true, anchor: "middle", width: 47 });
// legend
[["405 nm", BLUE, 122], ["470 nm", CYAN, 122], ["exp fit", "#ee2020", 98]].forEach(([name, c, w], i) => {
  seg(771, 1039 + i * 49, 893, 1039 + i * 49, c, 2.6);
  label(name, 904, 1052 + i * 49, { width: w });
});

// ---------------- Panel C step 2 ----------------
label("step 2. computing subtracted and scaled signals", 70, 1396, { width: 786 });
const yS2 = d3.scaleLinear([0, 10], [1556, 1468]);
band(tMain, sub470Hi, sub470Lo, xC, yS2, CYAN);
spikes(sub470Spikes, tMain, sub470Hi, sub470Lo, xC, yS2, CYAN, 1.8);
band(tMain, sub405Hi, sub405Lo, xC, yS2, BLUE);
spikes(sub405Spikes, tMain, sub405Hi, sub405Lo, xC, yS2, BLUE, 1.2);
band(tMain, scaled405Hi, scaled405Lo, xC, yS2, "#f01515");
rect(xC(3.806), yS2(9.4), xC(4.264), yS2(-3.5), "#333", 1.8, "8,5");
arrow(xC(4.264), yS2(8.7), 896, 1533);
svg.append("path").attr("fill", "none").attr("stroke", INK).attr("stroke-width", 3.5)
  .attr("d", `M${741.5 - (xC(1) - xC(0))},1635H741.5V${1635 - (yS2(0) - yS2(10))}`);
label("1 h", 677, 1672, { anchor: "middle", width: 50 });
label("0.01 (a.u.)", 777, 1592, { rot: true, anchor: "middle", width: 163 });
[["405 nm (subtracted)", BLUE, 329], ["470 nm (subtracted)", CYAN, 329], ["405 nm (scaled)", "#f01515", 263]]
  .forEach(([name, c, w], i) => {
    seg(912, 1378 + i * 48.5, 1036, 1378 + i * 48.5, c, 2.6);
    label(name, 1045, 1392 + i * 48, { width: w });
  });
// zoom of step 2
const xZ2 = d3.scaleLinear([0, 1526], [878, 1457]);
const yZ2 = d3.scaleLinear([0, 10], [1625, 1537]);
band(tZoom, zSub470Hi, zSub470Lo, xZ2, yZ2, CYAN);
spikes(zSub470Spikes, tZoom, zSub470Hi, zSub470Lo, xZ2, yZ2, CYAN, 1.8);
band(tZoom, zScaledHi, zScaledLo, xZ2, yZ2, "#f01515");
spikes(zScaledRough, tZoom, zScaledHi, zScaledLo, xZ2, yZ2, "#f01515", 2.5);
seg(1376, 1667, 1376 + xZ2(200) - xZ2(0), 1667, INK, 4);
label("200 s", 1416, 1697, { anchor: "middle", width: 78 });

// ---------------- Panel C step 3 ----------------
label("step 3. correcting signals", 70, 1725, { width: 406 });
const yS3 = d3.scaleLinear([0, 10], [1870, 1748]);
band(tMain, corrHi, corrLo, xC, yS3, GREEN3);
spikes(corrSpikes, tMain, corrHi, corrLo, xC, yS3, GREEN3, 1.6);
spikes(corrRough, tMain, corrHi, corrLo, xC, yS3, GREEN3, 2.6);
rect(xC(3.806), yS3(7.6), xC(4.264), yS3(-3.8), "#333", 1.8, "8,5");
arrow(xC(4.264), yS3(6.9), 878, 1808);
svg.append("path").attr("fill", "none").attr("stroke", INK).attr("stroke-width", 3.5)
  .attr("d", `M${741.5 - (xC(1) - xC(0))},1942H741.5V${1942 - (yS3(0) - yS3(10))}`);
label("1 h", 677, 1976, { anchor: "middle", width: 50 });
label("0.01 (a.u.)", 777, 1883, { rot: true, anchor: "middle", width: 163 });
const xZ3 = d3.scaleLinear([0, 1526], [880, 1459]);
const yZ3 = d3.scaleLinear([0, 10], [1866, 1744]);
band(tZoom, zCorrHi, zCorrLo, xZ3, yZ3, GREEN3);
spikes(zCorrSpikes, tZoom, zCorrHi, zCorrLo, xZ3, yZ3, GREEN3, 1.8);
seg(1385, 1909, 1385 + xZ3(200) - xZ3(0), 1909, INK, 4);
label("200 s", 1421, 1940, { anchor: "middle", width: 78 });
</script>
</body>
</html>
